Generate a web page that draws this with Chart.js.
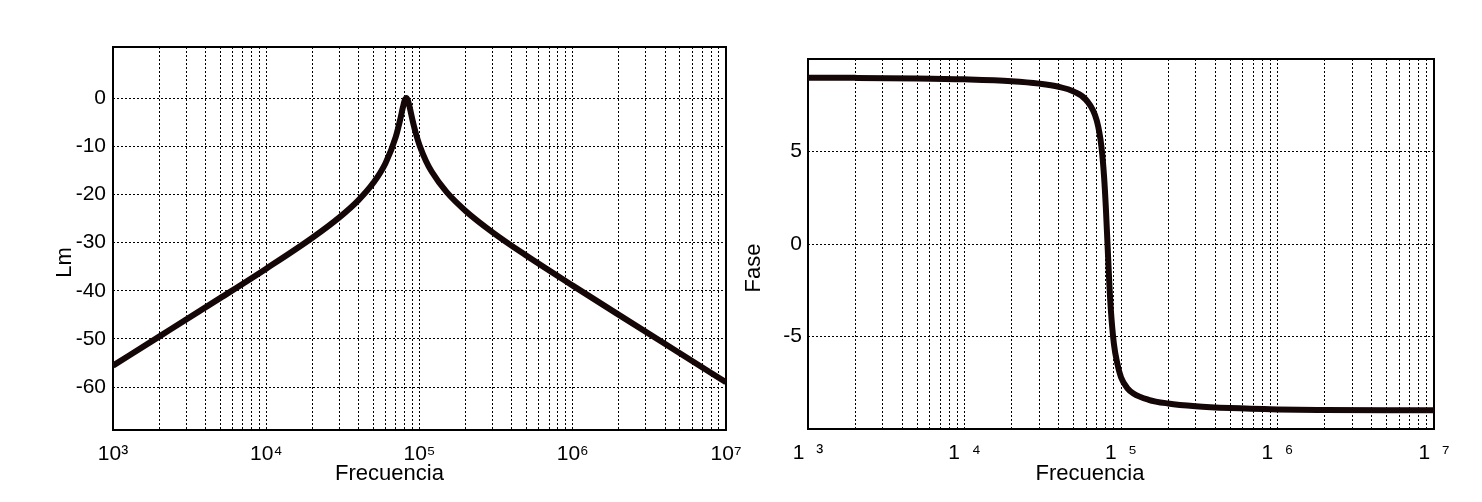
<!DOCTYPE html>
<html>
<head>
<meta charset="utf-8">
<script src="https://cdn.jsdelivr.net/npm/chart.js@4.4.1/dist/chart.umd.min.js"></script>
<style>
  html, body { margin: 0; padding: 0; background: #fff; }
  #wrap { position: relative; width: 1482px; height: 502px; overflow: hidden; }
  canvas { position: absolute; top: 0; }
  #c1 { left: 0; }
  #c2 { left: 741px; }
</style>
</head>
<body>
<div id="wrap">
  <canvas id="c1" width="741" height="502"></canvas>
  <canvas id="c2" width="741" height="502"></canvas>
</div>
<script>
// ---- data ----
const freqs = [1e3, 2e3, 5e3, 1e4, 2e4, 3e4, 4e4, 5e4, 6e4, 7e4, 75e3, 78e3, 80e3, 82e3, 84e3, 86e3, 9e4, 95e3, 1e5, 1.1e5, 1.2e5, 1.5e5, 2e5, 3e5, 5e5, 1e6, 2e6, 5e6, 1e7];
const magnitudeDb = [-55.54, -49.52, -41.53, -35.41, -29.0, -24.77, -21.18, -17.60, -13.52, -8.05, -4.32, -1.86, -0.53, 0, -0.51, -1.71, -4.55, -7.52, -9.78, -13.0, -15.24, -19.48, -23.43, -27.87, -32.74, -38.93, -45.01, -52.97, -58.99];
const phaseVals = [8.99, 8.98, 8.95, 8.90, 8.80, 8.67, 8.50, 8.24, 7.78, 6.67, 5.25, 3.61, 1.98, 0, -1.94, -3.48, -5.37, -6.51, -7.20, -7.80, -8.08, -8.42, -8.62, -8.77, -8.87, -8.94, -8.97, -8.99, -8.99];

const gridFreqs = [1e3, 2e3, 3e3, 4e3, 5e3, 6e3, 7e3, 8e3, 9e3,
                   1e4, 2e4, 3e4, 4e4, 5e4, 6e4, 7e4, 8e4, 9e4,
                   1e5, 2e5, 3e5, 4e5, 5e5, 6e5, 7e5, 8e5, 9e5,
                   1e6, 2e6, 3e6, 4e6, 5e6, 6e6, 7e6, 8e6, 9e6, 1e7];
const decadeValues = [1e3, 1e4, 1e5, 1e6, 1e7];
const magXLabels = ['10\u00B3', '10\u2074', '10\u2075', '10\u2076', '10\u2077'];
const phaseXLabels = ['1  \u00B3', '1  \u2074', '1  \u2075', '1  \u2076', '1  \u2077'];
const magYTicks = [-60, -50, -40, -30, -20, -10, 0];
const phaseYTicks = [-5, 0, 5];
const magYLabels = ['-60', '-50', '-40', '-30', '-20', '-10', '0'];
const phaseYLabels = ['-5', '0', '5'];

const xTitle = 'Frecuencia';
const magTitle = 'Lm';
const phaseTitle = 'Fase';

// ---- styling ----
const FONT = 'Liberation Sans, Arial, Helvetica, sans-serif';
Chart.defaults.font.family = FONT;
Chart.defaults.color = '#000';
const LINE_COLOR = '#150707';

function shiftTitle(dx, dy) {
  return function (scale) {
    if (scale._titleShifted) return;
    scale._titleShifted = true;
    const orig = scale.drawTitle;
    scale.drawTitle = function () {
      const ctx = this.ctx;
      ctx.save();
      ctx.translate(dx, dy);
      orig.call(this);
      ctx.restore();
    };
  };
}

const boxPlugin = {
  id: 'box',
  beforeDatasetsDraw(chart) {
    const a = chart.chartArea, ctx = chart.ctx;
    ctx.save();
    ctx.strokeStyle = '#000';
    ctx.lineWidth = 2;
    ctx.setLineDash([]);
    ctx.strokeRect(a.left, a.top, a.right - a.left, a.bottom - a.top);
    ctx.restore();
  }
};

function makeChart(id, yVals, opts) {
  const pts = freqs.map((f, i) => ({ x: f, y: yVals[i] }));
  return new Chart(document.getElementById(id), {
    type: 'line',
    data: {
      datasets: [{
        data: pts,
        borderColor: LINE_COLOR,
        borderWidth: 6,
        pointRadius: 0,
        fill: false,
        cubicInterpolationMode: 'monotone'
      }]
    },
    options: {
      responsive: false,
      animation: false,
      devicePixelRatio: 1,
      layout: { padding: opts.padding },
      plugins: { legend: { display: false }, tooltip: { enabled: false } },
      scales: {
        x: {
          type: 'logarithmic',
          min: 1e3,
          max: 1e7,
          afterBuildTicks: (s) => { s.ticks = gridFreqs.map(v => ({ value: v })); },
          afterFit: (s) => { s.height = opts.xHeight; s.paddingLeft = 0; s.paddingRight = 0; },
          afterUpdate: shiftTitle(opts.xTitleDx, 0),
          grid: { color: '#000', lineWidth: 1, drawTicks: false },
          border: { display: false, dash: [2, 2] },
          ticks: {
            autoSkip: false, maxRotation: 0, minRotation: 0,
            padding: 12,
            font: { size: 21 },
            color: '#000',
            callback: (v) => {
              const k = decadeValues.indexOf(v);
              return k >= 0 ? opts.xLabels[k] : '';
            }
          },
          title: {
            display: true, text: xTitle, color: '#000',
            font: { size: 22 },
            padding: { top: 0, bottom: 15 }
          }
        },
        y: {
          type: 'linear',
          min: opts.yMin,
          max: opts.yMax,
          afterBuildTicks: (s) => { s.ticks = opts.yTicks.map(v => ({ value: v })); },
          afterFit: (s) => { s.width = opts.yWidth; s.paddingTop = 0; s.paddingBottom = 0; },
          afterUpdate: shiftTitle(0, opts.yTitleDy),
          grid: { color: '#000', lineWidth: 1, drawTicks: false },
          border: { display: false, dash: [2, 2] },
          ticks: {
            padding: opts.yTickPad,
            font: { size: 21 },
            color: '#000',
            callback: (v) => {
              const k = opts.yTicks.indexOf(v);
              return k >= 0 ? opts.yLabels[k] : '';
            }
          },
          title: {
            display: true, text: opts.yTitle, color: '#000',
            font: { size: 22 },
            padding: { top: opts.yTitlePadTop, bottom: 0 }
          }
        }
      }
    },
    plugins: [boxPlugin]
  });
}

makeChart('c1', magnitudeDb, {
  padding: { top: 47, right: 15, bottom: 0, left: 0 },
  xHeight: 72, yWidth: 113,
  yMin: -68.9, yMax: 10.6,
  yTicks: magYTicks, yLabels: magYLabels,
  xLabels: magXLabels,
  yTitle: magTitle, yTitlePadTop: 52, yTitleDy: 24, xTitleDx: -30,
  yTickPad: 7
});

makeChart('c2', phaseVals, {
  padding: { top: 59, right: 48, bottom: 0, left: 0 },
  xHeight: 73, yWidth: 67,
  yMin: -10, yMax: 10,
  yTicks: phaseYTicks, yLabels: phaseYLabels,
  xLabels: phaseXLabels,
  yTitle: phaseTitle, yTitlePadTop: 0, yTitleDy: 24, xTitleDx: -31,
  yTickPad: 6
});
</script>
</body>
</html>
